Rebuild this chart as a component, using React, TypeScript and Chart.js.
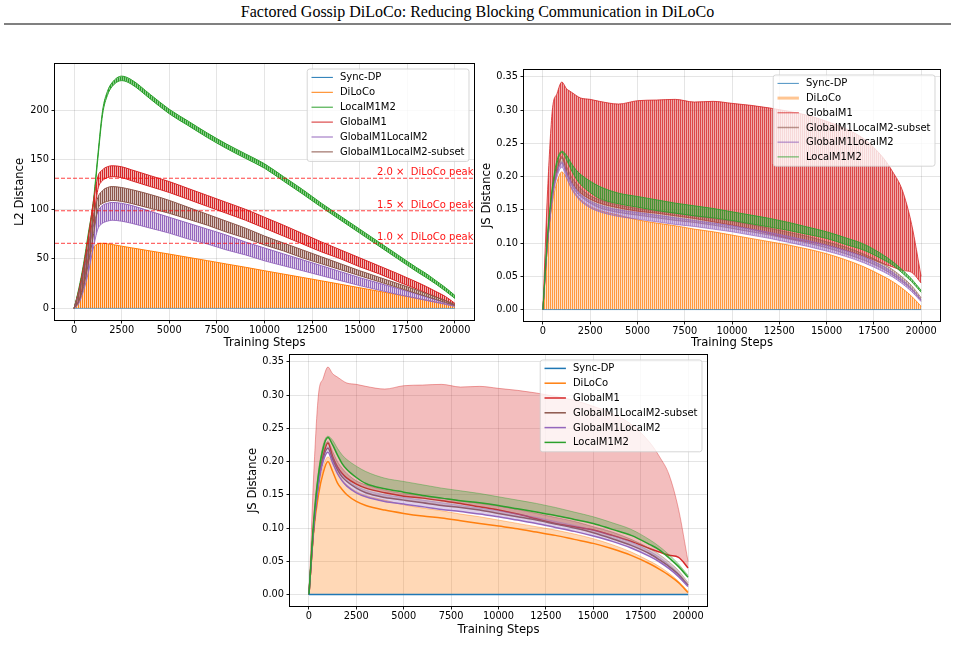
import React, { useEffect, useRef } from 'react';
import { Chart, registerables } from 'chart.js';

Chart.register(...registerables);

// ---------- sampled training steps and axis ticks ----------
const STEPS = [0, 250, 500, 750, 1000, 1250, 1500, 1750, 2000, 2500, 3000, 4000, 5000, 6000, 7000, 8000, 9000, 10000, 11000, 12000, 13000, 14000, 15000, 16000, 17000, 18000, 18500, 19000, 19500, 20000];
const X_TICKS = [0, 2500, 5000, 7500, 10000, 12500, 15000, 17500, 20000];
const L2_TICKS = [0, 50, 100, 150, 200];
const JS_TICKS = [0, 0.05, 0.1, 0.15, 0.2, 0.25, 0.3, 0.35];
const PEAK_MULTIPLES = [1.0, 1.5, 2.0];

// ---------- L2 distance (upper / lower envelope of the sync saw-tooth) ----------
const L2_SYNC = [0, 0, 0, 0, 0, 0, 0, 0, 0, 0, 0, 0, 0, 0, 0, 0, 0, 0, 0, 0, 0, 0, 0, 0, 0, 0, 0, 0, 0, 0];
const L2_DILOCO_HI = [0, 14, 32, 50, 61, 65, 65.7, 65.2, 64.5, 62.8, 61.2, 58, 54.8, 51.5, 48.2, 44.8, 41.5, 38, 34.6, 31.2, 27.8, 24.3, 20.8, 17.3, 13.8, 10.2, 8.4, 6.5, 4.5, 2.5];
const L2_LOCAL_HI = [0, 20, 45, 76, 106, 155, 200, 219, 228, 234.5, 231, 216, 201, 189, 177, 166, 156, 146, 133, 120, 106, 93, 80, 67, 54, 41, 35, 28, 21, 13];
const L2_LOCAL_LO = [0, 18, 42, 72, 102, 151, 196, 215, 224, 230, 226.5, 211.5, 196.5, 184.5, 172.5, 161.5, 151.5, 141.5, 128.5, 115.5, 102, 89, 76, 63, 50, 37, 31, 24.5, 17.5, 10];
const L2_GLOBAL_HI = [0, 18, 42, 72, 106, 133, 140, 143, 144, 143, 140, 134, 128, 121, 114, 107, 100, 92, 84, 75.5, 67, 59, 51, 43, 35, 26.5, 22, 17, 12, 5];
const L2_GLOBAL_LO = [0, 8, 26, 52, 86, 120, 129, 132, 133, 132, 129, 123, 117, 110, 103, 96, 89, 81, 73, 65, 57, 50, 42, 35, 27, 19.5, 15.5, 11.5, 7.5, 3];
const L2_GM1LM2_HI = [0, 15, 35, 58, 82, 98, 104, 106, 107, 106, 104, 98, 92, 86, 80, 74, 67, 61, 55, 49, 43, 37, 31, 25.5, 20, 14.5, 11.5, 8.5, 5.5, 3];
const L2_GM1LM2_LO = [0, 5, 18, 36, 60, 80, 86, 88, 89, 88, 86, 81, 76, 70, 65, 59, 54, 48, 43, 38, 33, 28, 23, 18.5, 14, 10, 8, 6, 4, 2];
const L2_SUBSET_HI = [0, 16, 38, 63, 92, 112, 119, 122, 123, 122, 120, 115, 109, 102, 95, 88, 81, 73, 66, 59, 52, 45, 38, 31.5, 25, 18.5, 15, 11.5, 8, 4];
const L2_SUBSET_LO = [0, 7, 22, 45, 72, 100, 106, 108, 109, 108, 106, 101, 96, 90, 84, 77, 71, 64, 58, 51, 45, 39, 33, 27, 21, 15, 12, 9, 6, 3];

// ---------- JS distance (envelopes and trend lines) ----------
const JS_SYNC = [0, 0, 0, 0, 0, 0, 0, 0, 0, 0, 0, 0, 0, 0, 0, 0, 0, 0, 0, 0, 0, 0, 0, 0, 0, 0, 0, 0, 0, 0];
const JS_DILOCO_HI = [0, 0.105, 0.16, 0.192, 0.207, 0.198, 0.184, 0.173, 0.165, 0.155, 0.149, 0.142, 0.135, 0.13, 0.126, 0.121, 0.117, 0.112, 0.107, 0.102, 0.097, 0.091, 0.084, 0.075, 0.064, 0.05, 0.042, 0.032, 0.02, 0.005];
const JS_DILOCO_LINE = [0, 0.095, 0.15, 0.183, 0.2, 0.185, 0.168, 0.158, 0.15, 0.14, 0.134, 0.127, 0.122, 0.118, 0.115, 0.111, 0.107, 0.103, 0.099, 0.094, 0.089, 0.083, 0.077, 0.069, 0.059, 0.046, 0.038, 0.029, 0.018, 0.003];
const JS_GLOBAL_HI = [0, 0.18, 0.3, 0.325, 0.342, 0.332, 0.327, 0.322, 0.318, 0.316, 0.313, 0.309, 0.314, 0.315, 0.316, 0.312, 0.313, 0.31, 0.307, 0.303, 0.298, 0.292, 0.283, 0.272, 0.256, 0.228, 0.207, 0.18, 0.128, 0.05];
const JS_GLOBAL_LO = [0, 0.1, 0.17, 0.208, 0.228, 0.207, 0.192, 0.182, 0.175, 0.166, 0.16, 0.153, 0.148, 0.145, 0.141, 0.137, 0.132, 0.127, 0.121, 0.114, 0.107, 0.102, 0.097, 0.089, 0.08, 0.069, 0.064, 0.059, 0.056, 0.04];
const JS_SUBSET_HI = [0, 0.108, 0.178, 0.215, 0.23, 0.215, 0.2, 0.19, 0.182, 0.171, 0.165, 0.157, 0.152, 0.148, 0.145, 0.141, 0.137, 0.133, 0.128, 0.122, 0.116, 0.11, 0.102, 0.094, 0.083, 0.069, 0.06, 0.049, 0.036, 0.018];
const JS_SUBSET_LO = [0, 0.1, 0.168, 0.205, 0.22, 0.203, 0.188, 0.177, 0.17, 0.16, 0.153, 0.146, 0.142, 0.138, 0.134, 0.131, 0.127, 0.122, 0.117, 0.112, 0.106, 0.1, 0.093, 0.084, 0.074, 0.061, 0.052, 0.042, 0.03, 0.014];
const JS_GM1LM2_HI = [0, 0.105, 0.172, 0.207, 0.222, 0.207, 0.192, 0.181, 0.173, 0.163, 0.157, 0.15, 0.146, 0.142, 0.138, 0.134, 0.13, 0.126, 0.121, 0.116, 0.11, 0.104, 0.097, 0.089, 0.079, 0.065, 0.056, 0.045, 0.032, 0.015];
const JS_GM1LM2_LO = [0, 0.1, 0.165, 0.2, 0.214, 0.198, 0.182, 0.171, 0.163, 0.153, 0.147, 0.14, 0.136, 0.132, 0.128, 0.125, 0.121, 0.117, 0.112, 0.107, 0.101, 0.095, 0.088, 0.08, 0.07, 0.057, 0.049, 0.039, 0.027, 0.012];
const JS_LOCAL_HI = [0, 0.115, 0.185, 0.225, 0.238, 0.232, 0.22, 0.21, 0.203, 0.193, 0.185, 0.175, 0.17, 0.165, 0.16, 0.156, 0.152, 0.147, 0.142, 0.137, 0.131, 0.124, 0.117, 0.108, 0.098, 0.082, 0.072, 0.06, 0.046, 0.029];
const JS_LOCAL_LO = [0, 0.11, 0.18, 0.22, 0.236, 0.225, 0.21, 0.197, 0.188, 0.176, 0.167, 0.159, 0.154, 0.149, 0.145, 0.141, 0.138, 0.134, 0.129, 0.124, 0.119, 0.113, 0.107, 0.098, 0.089, 0.075, 0.067, 0.055, 0.042, 0.026];

// ---------- styling ----------
const FONT = '"DejaVu Sans", "Noto Sans", sans-serif';
const COL = {
  blue: '31,119,180',
  orange: '255,127,14',
  green: '44,160,44',
  red: '214,39,40',
  purple: '148,103,189',
  brown: '140,86,75',
};
const rgba = (c: string, a: number) => `rgba(${c},${a})`;

const pts = (ys: number[]) => STEPS.map((x, i) => ({ x, y: ys[i] }));

// vertical 1px stripes that stand in for the dense per-sync saw-tooth
function stripes(c: string, aOn: number, aOff: number) {
  const cv = document.createElement('canvas');
  cv.width = 2;
  cv.height = 1;
  const g = cv.getContext('2d')!;
  g.fillStyle = rgba(c, aOn);
  g.fillRect(0, 0, 1, 1);
  g.fillStyle = rgba(c, aOff);
  g.fillRect(1, 0, 1, 1);
  return g.createPattern(cv, 'repeat')!;
}

function line(data: number[], color: string, width: number, extra: any = {}) {
  return {
    data: pts(data),
    borderColor: color,
    borderWidth: width,
    pointRadius: 0,
    cubicInterpolationMode: 'monotone',
    fill: false,
    ...extra,
  };
}

type Item = { label: string; color: string; width: number };

function legendAndFrame(items: Item[], rowH: number, extra?: (chart: any) => void) {
  return {
    id: 'legendAndFrame',
    afterDatasetsDraw(chart: any) {
      if (extra) extra(chart);
      const { ctx, chartArea: a } = chart;
      ctx.save();
      ctx.setLineDash([]);
      ctx.strokeStyle = '#000';
      ctx.lineWidth = 1;
      ctx.strokeRect(a.left - 0.5, a.top - 0.5, a.right - a.left + 1, a.bottom - a.top + 1);
      ctx.restore();
    },
    afterDraw(chart: any) {
      const { ctx, chartArea: a } = chart;
      ctx.save();
      ctx.font = `10px ${FONT}`;
      const tw = Math.max(...items.map((it) => ctx.measureText(it.label).width));
      const w = 4.3 + 21.4 + 7 + tw + 4.5;
      const h = items.length * rowH + 3;
      const x = a.right - 5 - w;
      const y = a.top + 5;
      ctx.beginPath();
      (ctx as any).roundRect(x, y, w, h, 2.5);
      ctx.fillStyle = 'rgba(255,255,255,0.8)';
      ctx.fill();
      ctx.strokeStyle = 'rgba(204,204,204,0.8)';
      ctx.lineWidth = 1;
      ctx.stroke();
      items.forEach((it, i) => {
        const cy = y + 8.4 + i * rowH;
        ctx.strokeStyle = it.color;
        ctx.lineWidth = it.width;
        ctx.beginPath();
        ctx.moveTo(x + 4.3, cy);
        ctx.lineTo(x + 25.7, cy);
        ctx.stroke();
        ctx.fillStyle = '#000';
        ctx.textBaseline = 'middle';
        ctx.textAlign = 'left';
        ctx.fillText(it.label, x + 32.7, cy + 0.5);
      });
      ctx.restore();
    },
  };
}

type Frame = {
  yMin: number;
  yMax: number;
  yTicks: number[];
  yFmt: (v: number) => string;
  yTitle: string;
  yTitlePad: number;
  yWidth: number;
  xHeight: number;
  pad: { top: number; right: number; left: number; bottom: number };
};

function options(f: Frame) {
  const tickFont = { family: FONT, size: 9.8 };
  const titleFont = { family: FONT, size: 11.6 };
  const grid = {
    color: 'rgba(0,0,0,0.1)',
    lineWidth: 1,
    drawTicks: true,
    tickLength: 3.5,
    tickColor: '#000',
    tickWidth: 0.9,
  };
  return {
    responsive: false,
    animation: false,
    events: [],
    layout: { padding: f.pad },
    plugins: { legend: { display: false }, tooltip: { enabled: false } },
    scales: {
      x: {
        type: 'linear',
        min: -1000,
        max: 21000,
        afterBuildTicks: (s: any) => {
          s.ticks = X_TICKS.map((v) => ({ value: v }));
        },
        afterFit: (s: any) => {
          s.height = f.xHeight;
        },
        grid,
        border: { display: false },
        ticks: {
          font: tickFont,
          color: '#000',
          padding: 1.5,
          maxRotation: 0,
          autoSkip: false,
          callback: (v: number) => String(v),
        },
        title: {
          display: true,
          text: 'Training Steps',
          font: titleFont,
          color: '#000',
          padding: { top: 0, bottom: 0 },
        },
      },
      y: {
        type: 'linear',
        min: f.yMin,
        max: f.yMax,
        afterBuildTicks: (s: any) => {
          s.ticks = f.yTicks.map((v) => ({ value: v }));
        },
        afterFit: (s: any) => {
          s.width = f.yWidth;
        },
        grid,
        border: { display: false },
        ticks: {
          font: tickFont,
          color: '#000',
          padding: 2.5,
          autoSkip: false,
          callback: (v: number) => f.yFmt(v),
        },
        title: {
          display: true,
          text: f.yTitle,
          font: titleFont,
          color: '#000',
          padding: { top: f.yTitlePad, bottom: 0 },
        },
      },
    },
  };
}

const withOrder = (ds: any[]) => ds.map((d, i) => ({ ...d, order: -i }));

// ---------- chart 1: L2 distance ----------
function l2Chart(canvas: HTMLCanvasElement) {
  const datasets = withOrder([
    line(L2_DILOCO_HI, rgba(COL.orange, 1), 1, { fill: 'origin', backgroundColor: stripes(COL.orange, 1, 0.3) }),
    line(L2_LOCAL_LO, rgba(COL.green, 1), 1),
    line(L2_LOCAL_HI, rgba(COL.green, 1), 1, { fill: '-1', backgroundColor: stripes(COL.green, 1, 0.55) }),
    line(L2_GLOBAL_LO, rgba(COL.red, 1), 1),
    line(L2_GLOBAL_HI, rgba(COL.red, 1), 1, { fill: '-1', backgroundColor: stripes(COL.red, 1, 0.35) }),
    line(L2_GM1LM2_LO, rgba(COL.purple, 0.9), 1),
    line(L2_GM1LM2_HI, rgba(COL.purple, 1), 1, { fill: '-1', backgroundColor: stripes(COL.purple, 1, 0.3) }),
    line(L2_SUBSET_LO, rgba(COL.brown, 1), 1),
    line(L2_SUBSET_HI, rgba(COL.brown, 1), 1, { fill: '-1', backgroundColor: stripes(COL.brown, 1, 0.35) }),
    line(L2_SYNC, rgba(COL.blue, 0.6), 1),
  ]);
  const peak = Math.max(...L2_DILOCO_HI);
  const peakLines = (chart: any) => {
    const { ctx, chartArea: a, scales } = chart;
    ctx.save();
    PEAK_MULTIPLES.forEach((m) => {
      const py = scales.y.getPixelForValue(peak * m);
      ctx.strokeStyle = 'rgba(255,0,0,0.75)';
      ctx.lineWidth = 1;
      ctx.setLineDash([4, 2]);
      ctx.beginPath();
      ctx.moveTo(a.left, py);
      ctx.lineTo(a.right, py);
      ctx.stroke();
      ctx.setLineDash([]);
      ctx.fillStyle = 'rgba(255,0,0,0.92)';
      ctx.font = `10px ${FONT}`;
      ctx.textAlign = 'right';
      ctx.textBaseline = 'alphabetic';
      ctx.fillText(`${m.toFixed(1)} \u00d7  DiLoCo peak`, a.right - 0.5, py - 3);
    });
    ctx.restore();
  };
  const items: Item[] = [
    { label: 'Sync-DP', color: rgba(COL.blue, 1), width: 1 },
    { label: 'DiLoCo', color: rgba(COL.orange, 1), width: 1 },
    { label: 'LocalM1M2', color: rgba(COL.green, 1), width: 1 },
    { label: 'GlobalM1', color: rgba(COL.red, 1), width: 1 },
    { label: 'GlobalM1LocalM2', color: rgba(COL.purple, 1), width: 1 },
    { label: 'GlobalM1LocalM2-subset', color: rgba(COL.brown, 1), width: 1 },
  ];
  return new Chart(canvas, {
    type: 'line',
    data: { datasets },
    options: options({
      yMin: -11.75,
      yMax: 246.75,
      yTicks: L2_TICKS,
      yFmt: (v) => String(v),
      yTitle: 'L2 Distance',
      yTitlePad: 13,
      yWidth: 55,
      xHeight: 30,
      pad: { top: 14, right: 6, left: 0, bottom: 0 },
    }) as any,
    plugins: [legendAndFrame(items, 14.9, peakLines)],
  } as any);
}

// ---------- chart 2: JS distance, raw saw-tooth ----------
function jsRawChart(canvas: HTMLCanvasElement) {
  const datasets = withOrder([
    line(JS_DILOCO_HI, rgba(COL.orange, 0.75), 1, { fill: 'origin', backgroundColor: stripes(COL.orange, 0.8, 0.25) }),
    line(JS_GLOBAL_LO, rgba(COL.red, 0.8), 1),
    line(JS_GLOBAL_HI, rgba(COL.red, 0.8), 1, { fill: '-1', backgroundColor: stripes(COL.red, 0.85, 0.4) }),
    line(JS_SUBSET_LO, rgba(COL.brown, 0.6), 1),
    line(JS_SUBSET_HI, rgba(COL.brown, 0.6), 1, { fill: '-1', backgroundColor: stripes(COL.brown, 0.65, 0.3) }),
    line(JS_GM1LM2_LO, rgba(COL.purple, 0.7), 1),
    line(JS_GM1LM2_HI, rgba(COL.purple, 0.7), 1, { fill: '-1', backgroundColor: stripes(COL.purple, 0.75, 0.4) }),
    line(JS_LOCAL_LO, rgba(COL.green, 0.85), 1),
    line(JS_LOCAL_HI, rgba(COL.green, 0.85), 1, { fill: '-1', backgroundColor: stripes(COL.green, 0.85, 0.45) }),
    line(JS_SYNC, rgba(COL.blue, 0.7), 1),
  ]);
  const items: Item[] = [
    { label: 'Sync-DP', color: rgba(COL.blue, 0.8), width: 1 },
    { label: 'DiLoCo', color: rgba(COL.orange, 0.45), width: 3 },
    { label: 'GlobalM1', color: rgba(COL.red, 0.8), width: 1 },
    { label: 'GlobalM1LocalM2-subset', color: rgba(COL.brown, 0.6), width: 1.5 },
    { label: 'GlobalM1LocalM2', color: rgba(COL.purple, 0.6), width: 1.5 },
    { label: 'LocalM1M2', color: rgba(COL.green, 0.8), width: 1 },
  ];
  return new Chart(canvas, {
    type: 'line',
    data: { datasets },
    options: options({
      yMin: -0.01715,
      yMax: 0.36015,
      yTicks: JS_TICKS,
      yFmt: (v) => v.toFixed(2),
      yTitle: 'JS Distance',
      yTitlePad: 0,
      yWidth: 44,
      xHeight: 29,
      pad: { top: 20, right: 15, left: 0, bottom: 0 },
    }) as any,
    plugins: [legendAndFrame(items, 14.7)],
  } as any);
}

// ---------- chart 3: JS distance, shaded ranges with trend lines ----------
function jsBandChart(canvas: HTMLCanvasElement) {
  const band = (hi: number[], c: string) =>
    line(hi, rgba(c, 0.5), 0.8, { fill: '+1', backgroundColor: rgba(c, 0.3) });
  const datasets = withOrder([
    line(JS_DILOCO_HI, rgba(COL.orange, 0.5), 0.8, { fill: 'origin', backgroundColor: rgba(COL.orange, 0.3) }),
    line(JS_DILOCO_LINE, rgba(COL.orange, 1), 1.5),
    band(JS_GLOBAL_HI, COL.red),
    line(JS_GLOBAL_LO, rgba(COL.red, 1), 1.5),
    band(JS_SUBSET_HI, COL.brown),
    line(JS_SUBSET_LO, rgba(COL.brown, 1), 1.5),
    band(JS_GM1LM2_HI, COL.purple),
    line(JS_GM1LM2_LO, rgba(COL.purple, 1), 1.5),
    band(JS_LOCAL_HI, COL.green),
    line(JS_LOCAL_LO, rgba(COL.green, 1), 1.5),
    line(JS_SYNC, rgba(COL.blue, 1), 1.5),
  ]);
  const items: Item[] = [
    { label: 'Sync-DP', color: rgba(COL.blue, 1), width: 1.5 },
    { label: 'DiLoCo', color: rgba(COL.orange, 1), width: 1.5 },
    { label: 'GlobalM1', color: rgba(COL.red, 1), width: 1.5 },
    { label: 'GlobalM1LocalM2-subset', color: rgba(COL.brown, 1), width: 1.5 },
    { label: 'GlobalM1LocalM2', color: rgba(COL.purple, 1), width: 1.5 },
    { label: 'LocalM1M2', color: rgba(COL.green, 1), width: 1.5 },
  ];
  return new Chart(canvas, {
    type: 'line',
    data: { datasets },
    options: options({
      yMin: -0.01715,
      yMax: 0.36015,
      yTicks: JS_TICKS,
      yFmt: (v) => v.toFixed(2),
      yTitle: 'JS Distance',
      yTitlePad: 6,
      yWidth: 50,
      xHeight: 31,
      pad: { top: 10, right: 13, left: 0, bottom: 0 },
    }) as any,
    plugins: [legendAndFrame(items, 14.8)],
  } as any);
}

export default function App() {
  const c1 = useRef<HTMLCanvasElement>(null);
  const c2 = useRef<HTMLCanvasElement>(null);
  const c3 = useRef<HTMLCanvasElement>(null);

  useEffect(() => {
    const charts = [l2Chart(c1.current!), jsRawChart(c2.current!), jsBandChart(c3.current!)];
    return () => charts.forEach((c) => c.destroy());
  }, []);

  return (
    <div
      style={{
        position: 'absolute',
        left: 0,
        top: 0,
        width: 955,
        height: 661,
        background: '#fff',
        overflow: 'hidden',
      }}
    >
      <div
        style={{
          position: 'absolute',
          left: 0,
          top: 2,
          width: 955,
          textAlign: 'center',
          font: '16px "Liberation Serif", "Times New Roman", serif',
          lineHeight: '20px',
          color: '#000',
        }}
      >
        Factored Gossip DiLoCo: Reducing Blocking Communication in DiLoCo
      </div>
      <div style={{ position: 'absolute', left: 4, top: 23, width: 947, height: 2, background: '#808080' }} />
      <canvas ref={c1} width={480} height={300} style={{ position: 'absolute', left: 0, top: 50 }} />
      <canvas ref={c2} width={475} height={300} style={{ position: 'absolute', left: 480, top: 50 }} />
      <canvas ref={c3} width={480} height={292} style={{ position: 'absolute', left: 240, top: 345 }} />
    </div>
  );
}
